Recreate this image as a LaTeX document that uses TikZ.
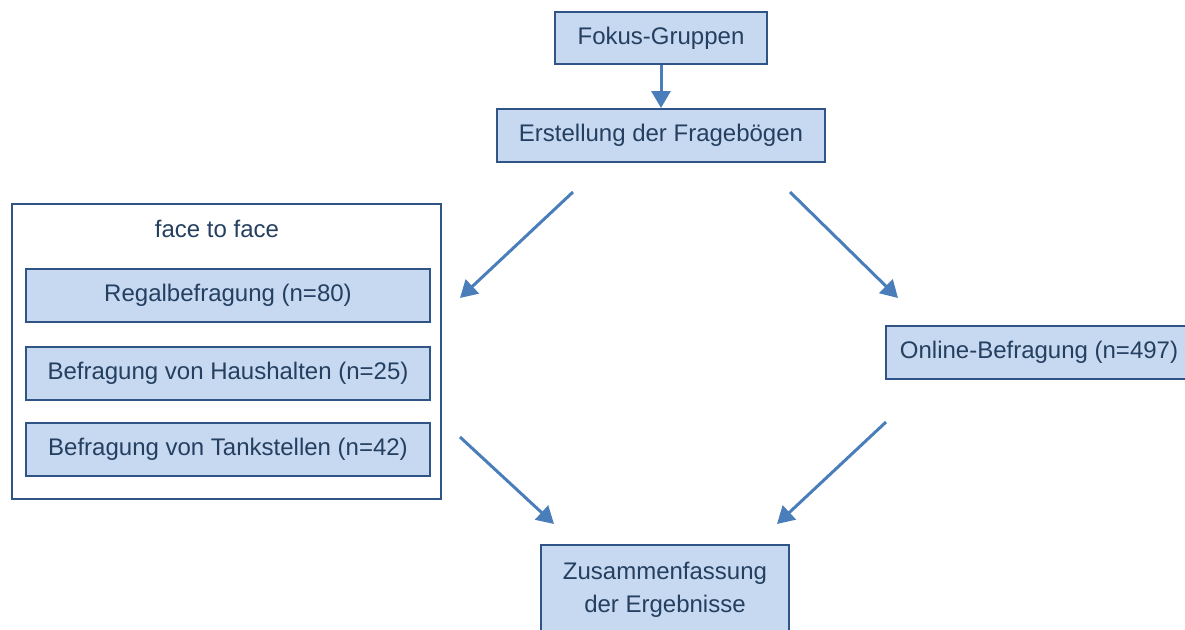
\documentclass[tikz,border=0pt]{standalone}
\usepackage{fontspec}
\setmainfont{Liberation Sans}
\usepackage{tikz}
\usetikzlibrary{arrows.meta,positioning}
\definecolor{boxfill}{HTML}{C6D9F0}
\definecolor{boxline}{HTML}{2F5485}
\definecolor{boxtext}{HTML}{243F60}
\definecolor{arrowblue}{HTML}{4A7EBB}

\begin{document}
\begin{tikzpicture}[x=0.5pt,y=-0.5pt,
  box/.style={draw=boxline,fill=boxfill,text=boxtext,line width=1pt,inner sep=0pt,align=center,
    font=\fontsize{12}{16.5}\selectfont},
  arr/.style={draw=arrowblue,line width=1.5pt,-{Triangle[length=8.5pt,width=9.5pt]}}]
\useasboundingbox (0,0) rectangle (1185,629);
% top of the flow
\node[box,minimum width=106pt,minimum height=26pt] (fokus) at (661,38) {Fokus-Gruppen};
\node[box,minimum width=164pt,minimum height=26.5pt] (frage) at (661,135.5) {Erstellung der Fragebögen};
\draw[arr] (fokus.south) -- (frage.north);
% face to face group
\node[draw=boxline,fill=white,line width=1pt,minimum width=214.5pt,minimum height=147.5pt] (face) at (226.5,351.5) {};
\node[text=boxtext,font=\fontsize{12}{14}\selectfont] (facelabel) at (217,229) {face to face};
\node[box,minimum width=202pt,minimum height=26.5pt] (regal) at (228,295.5) {Regalbefragung (n=80)};
\node[box,minimum width=202pt,minimum height=26.5pt] (haus) at (228,373.5) {Befragung von Haushalten (n=25)};
\node[box,minimum width=202pt,minimum height=26.5pt] (tank) at (228,449.5) {Befragung von Tankstellen (n=42)};
% online
\node[box,minimum width=153pt,minimum height=26.5pt] (online) at (1039,352.5) {Online-Befragung (n=497)};
% result
\node[box,minimum width=124pt,minimum height=45pt] (zusammen) at (665,590) {Zusammenfassung\\der Ergebnisse};
% free arrow ends
\coordinate (a1) at (573,192);
\coordinate (b1) at (460,298);
\coordinate (a2) at (790,192);
\coordinate (b2) at (898,298);
\coordinate (a3) at (460,437);
\coordinate (b3) at (554,524);
\coordinate (a4) at (886,422);
\coordinate (b4) at (777,524);
\draw[arr] (a1) -- (b1);
\draw[arr] (a2) -- (b2);
\draw[arr] (a3) -- (b3);
\draw[arr] (a4) -- (b4);
\end{tikzpicture}
\end{document}
